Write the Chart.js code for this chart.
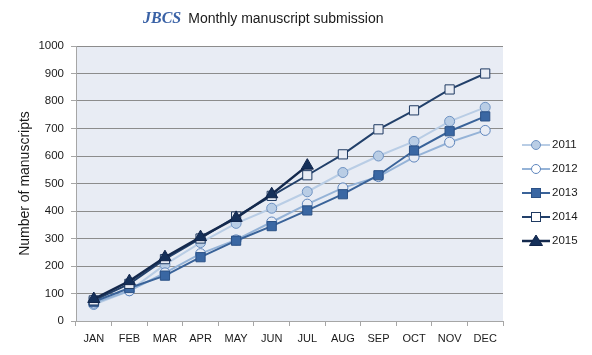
<!DOCTYPE html>
<html>
<head>
<meta charset="utf-8">
<script src="https://cdn.jsdelivr.net/npm/chart.js@4/dist/chart.umd.min.js"></script>
<style>
  html,body{margin:0;padding:0;background:#fff;}
  #wrap{position:relative;width:592px;height:355px;overflow:hidden;}
  #title{position:absolute;left:143px;top:9px;white-space:nowrap;font-family:"Liberation Sans",Arial,sans-serif;font-size:14px;color:#1a1a1a;}
  #title .j{font-family:"Liberation Serif","Times New Roman",serif;font-weight:bold;font-style:italic;font-size:16px;color:#3a62a6;margin-right:7px;}
  #legend{position:absolute;left:520px;top:0;font-family:"Liberation Sans",Arial,sans-serif;font-size:11.5px;color:#1a1a1a;}
  .li{position:absolute;left:0;width:80px;height:16px;}
  .li svg{position:absolute;left:0;top:0;}
  .li span{position:absolute;left:32px;top:1px;}
</style>
</head>
<body>
<div id="wrap">
  <canvas id="c" width="592" height="355"></canvas>
  <div id="title"><span class="j">JBCS</span>Monthly manuscript submission</div>
  <div id="legend"></div>
</div>
<script>
const categories = ["JAN","FEB","MAR","APR","MAY","JUN","JUL","AUG","SEP","OCT","NOV","DEC"];
const yTicks = [0,100,200,300,400,500,600,700,800,900,1000];
const seriesNames = ["2011","2012","2013","2014","2015"];
const v2011 = [60,110,205,285,355,410,470,540,600,653,726,777];
const v2012 = [65,110,175,245,295,360,425,484,525,596,650,693];
const v2013 = [70,120,165,232,292,345,402,461,530,620,690,744];
const v2014 = [75,135,225,300,380,455,530,606,697,766,842,900];
const v2015 = [80,145,232,305,375,461,565];

const PLOT_BG = "#e8ecf4";
const styles = [
  {line:"#b9cde5", width:2, point:"circle", r:5, fill:"#b9cde5", border:"#6f93c3"},
  {line:"#95b3d7", width:2, point:"circle", r:5, fill:PLOT_BG, border:"#5f86bd"},
  {line:"#3a6399", width:2, point:"rect", r:6.5, fill:"#3a67a3", border:"#2b5186"},
  {line:"#22406a", width:2, point:"rect", r:6.5, fill:PLOT_BG, border:"#1f3a62"},
  {line:"#14294d", width:2.5, point:"triangle", r:7, fill:"#15305a", border:"#10244a"}
];
const values = [v2011, v2012, v2013, v2014, v2015];

const datasets = values.map((v,i)=>({
  label: seriesNames[i],
  data: v,
  borderColor: styles[i].line,
  borderWidth: styles[i].width,
  pointStyle: styles[i].point,
  pointRadius: styles[i].r,
  pointBackgroundColor: styles[i].fill,
  pointBorderColor: styles[i].border,
  pointBorderWidth: 1,
  tension: 0,
  fill: false,
  order: 4 - i
}));

const bgPlugin = {
  id:'bg',
  beforeDraw(chart){
    const {ctx, chartArea:a} = chart;
    ctx.save();
    ctx.fillStyle = PLOT_BG;
    ctx.fillRect(a.left, a.top, a.right-a.left, a.bottom-a.top);
    ctx.restore();
  }
};

new Chart(document.getElementById('c'), {
  type:'line',
  data:{labels:categories, datasets},
  options:{
    responsive:false,
    animation:false,
    devicePixelRatio:1,
    layout:{padding:{left:17, top:46, right:89, bottom:0}},
    plugins:{legend:{display:false}, title:{display:false}, tooltip:{enabled:false}},
    scales:{
      x:{
        offset:true,
        grid:{offset:true, drawOnChartArea:false, drawTicks:true, tickLength:5, color:"#a6a6a6"},
        border:{color:"#a6a6a6"},
        ticks:{color:"#1a1a1a", font:{family:"Liberation Sans", size:11}, padding:6, maxRotation:0, autoSkip:false},
        afterFit(s){ s.height = 34; }
      },
      y:{
        min:0, max:1000,
        afterBuildTicks(s){ s.ticks = yTicks.map(v=>({value:v})); },
        grid:{color:"#8c8c8c", lineWidth:1, drawTicks:true, tickLength:5, tickColor:"#a6a6a6"},
        border:{color:"#a6a6a6"},
        ticks:{color:"#1a1a1a", font:{family:"Liberation Sans", size:11.5}, padding:7, callback:(v)=>String(v)},
        title:{display:true, text:"Number of manuscripts", color:"#1a1a1a", font:{family:"Liberation Sans", size:14}, padding:{top:0,bottom:4}},
        afterFit(s){ s.width = 59; }
      }
    }
  },
  plugins:[bgPlugin]
});

// legend (HTML)
const legend = document.getElementById('legend');
const tops = [145,169,193,217,241];
seriesNames.forEach((name,i)=>{
  const st = styles[i];
  const fill = st.fill === PLOT_BG ? "#ffffff" : st.fill;
  let marker = "";
  const cx = 16, cy = 8;
  if(st.point==="circle") marker = `<circle cx="${cx}" cy="${cy}" r="4.5" fill="${fill}" stroke="${st.border}" stroke-width="1"/>`;
  else if(st.point==="rect") marker = `<rect x="${cx-4.5}" y="${cy-4.5}" width="9" height="9" fill="${fill}" stroke="${st.border}" stroke-width="1"/>`;
  else marker = `<polygon points="${cx},${cy-6} ${cx+6.5},${cy+4.5} ${cx-6.5},${cy+4.5}" fill="${fill}" stroke="${st.border}" stroke-width="1"/>`;
  const d = document.createElement('div');
  d.className='li';
  d.style.top = (tops[i]-8)+'px';
  d.innerHTML = `<svg width="32" height="16"><line x1="2" y1="8" x2="30" y2="8" stroke="${st.line}" stroke-width="${st.width}"/>${marker}</svg><span>${name}</span>`;
  legend.appendChild(d);
});
</script>
</body>
</html>
